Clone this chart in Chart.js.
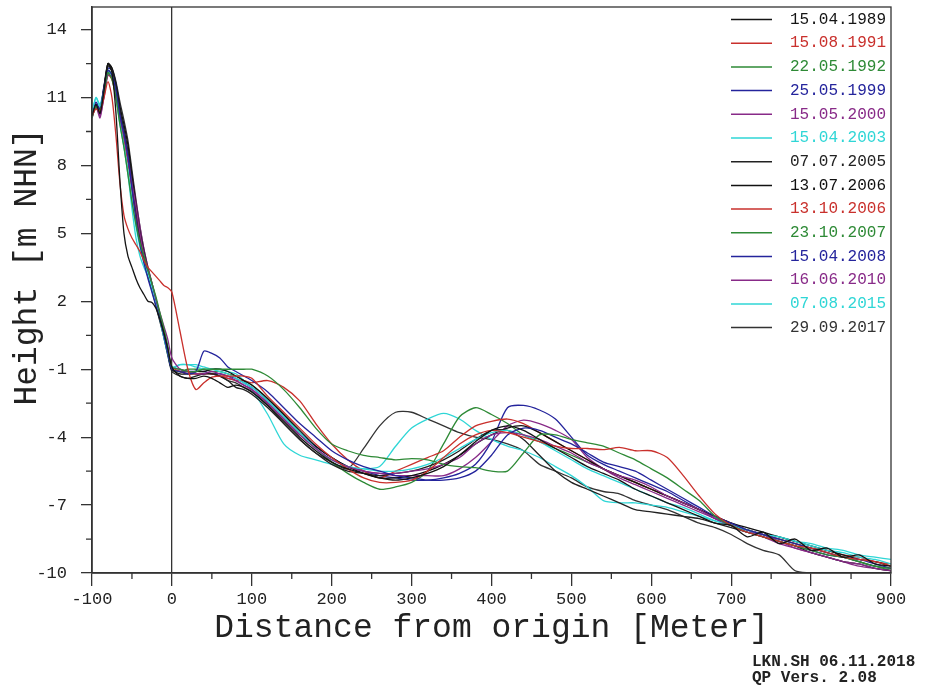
<!DOCTYPE html>
<html>
<head>
<meta charset="utf-8">
<script src="https://cdn.jsdelivr.net/npm/chart.js@4.4.1/dist/chart.umd.min.js"></script>
<style>
  html, body { margin: 0; padding: 0; background: #fff; }
  #wrap { width: 925px; height: 687px; position: relative; }
</style>
</head>
<body>
<div id="wrap"><canvas id="profileChart"></canvas></div>
<script>
// survey dates (legend) and profile data
const surveyDates = ["15.04.1989", "15.08.1991", "22.05.1992", "25.05.1999", "15.05.2000",
    "15.04.2003", "07.07.2005", "13.07.2006", "13.10.2006", "23.10.2007",
    "15.04.2008", "16.06.2010", "07.08.2015", "29.09.2017"];

const distance = [-100, -95, -90, -85, -80, -75, -70, -65, -60, -55, -50, -45, -40, -35, -30, -25, -20, -15, -10, -5, 0,
    10, 20, 30, 40, 50, 60, 70, 80, 90, 100,
    120, 140, 160, 180, 200, 220, 240, 260, 280, 300, 320, 340, 360, 380, 400, 420, 440, 460, 480, 500,
    520, 540, 560, 580, 600, 620, 640, 660, 680, 700, 720, 740, 760, 780, 800, 820, 840, 860, 880, 900];

const h1989 = [10.2, 10.7, 10.3, 11.3, 12.5, 12.1, 10.3, 7.3, 5.0, 4.0, 3.5, 3.0, 2.6, 2.3, 2.0, 1.95, 1.7, 1.2, 0.6, -0.1, -0.9,
    -1.3, -1.4, -1.4, -1.3, -1.4, -1.6, -1.8, -1.7, -1.8, -2.0,
    -2.6, -3.3, -4.0, -4.6, -5.1, -5.4, -5.6, -5.8, -5.9, -5.8, -5.6, -5.3, -4.8, -4.2, -3.7, -3.5, -3.7, -4.1, -4.5, -4.9,
    -5.3, -5.6, -5.9, -6.3, -6.6, -6.9, -7.2, -7.5, -7.8, -7.9, -8.4, -8.2, -8.7, -8.5, -9.0, -8.9, -9.3, -9.2, -9.6, -9.7];
const h1991 = [10.2, 10.5, 10.4, 11.0, 11.7, 11.0, 9.3, 7.2, 5.8, 5.2, 4.8, 4.5, 4.2, 3.8, 3.5, 3.3, 3.1, 2.9, 2.7, 2.6, 2.4,
    0.7, -1.0, -1.9, -1.6, -1.35, -1.3, -1.3, -1.3, -1.3, -1.4,
    -2.2, -2.9, -3.6, -4.3, -4.9, -5.4, -5.8, -6.0, -6.0, -5.9, -5.5, -4.9, -4.3, -3.9, -3.7, -3.8, -4.0, -4.2, -4.4, -4.5,
    -4.5, -4.55, -4.45, -4.6, -4.6, -4.9, -5.7, -6.6, -7.4, -7.9, -8.2, -8.4, -8.6, -8.8, -8.9, -9.1, -9.3, -9.4, -9.5, -9.7];
const h1992 = [10.1, 10.6, 10.4, 11.2, 12.1, 11.8, 11.0, 9.8, 8.8, 7.6, 6.4, 5.4, 4.6, 4.0, 3.4, 2.8, 2.2, 1.5, 0.8, 0.0, -0.9,
    -1.0, -1.1, -1.1, -1.0, -1.0, -1.0, -1.0, -1.0, -1.0, -1.0,
    -1.3, -1.9, -2.7, -3.6, -4.3, -4.6, -4.8, -4.9, -5.0, -4.95, -5.0, -5.2, -5.3, -5.35, -5.5, -5.5, -4.7, -3.9, -3.9, -4.1,
    -4.25, -4.4, -4.7, -5.0, -5.4, -5.8, -6.3, -6.8, -7.5, -7.9, -8.2, -8.4, -8.6, -8.8, -9.0, -9.2, -9.3, -9.5, -9.7, -9.8];
const h1999 = [10.2, 10.7, 10.4, 11.4, 12.2, 12.0, 11.3, 10.2, 9.4, 8.4, 7.0, 5.6, 4.5, 3.7, 3.0, 2.4, 1.8, 1.2, 0.5, -0.3, -1.0,
    -1.1, -1.2, -1.1, -0.2, -0.3, -0.5, -0.9, -1.1, -1.3, -1.5,
    -2.0, -2.7, -3.4, -4.0, -4.6, -5.0, -5.3, -5.5, -5.7, -5.8, -5.9, -5.9, -5.8, -5.5, -4.8, -3.9, -3.6, -3.7, -4.0, -4.3,
    -4.7, -5.1, -5.3, -5.5, -5.9, -6.3, -6.7, -7.1, -7.5, -7.8, -8.1, -8.3, -8.5, -8.7, -8.9, -9.1, -9.3, -9.4, -9.6, -9.8];
const h2000 = [10.1, 10.7, 10.2, 11.0, 12.0, 11.9, 11.2, 10.1, 9.3, 8.3, 7.2, 6.2, 5.0, 4.1, 3.4, 2.8, 2.1, 1.5, 0.9, 0.3, -0.5,
    -1.0, -1.1, -1.2, -1.2, -1.1, -1.2, -1.3, -1.5, -1.7, -1.9,
    -2.5, -3.2, -3.9, -4.5, -5.0, -5.3, -5.5, -5.6, -5.6, -5.5, -5.4, -5.2, -4.9, -4.3, -3.9, -3.8, -3.9, -4.1, -4.4, -4.7,
    -5.1, -5.4, -5.7, -5.9, -6.2, -6.6, -6.9, -7.2, -7.6, -7.9, -8.2, -8.3, -8.6, -8.9, -9.1, -9.3, -9.5, -9.6, -9.8, -9.9];
const h2003 = [10.3, 11.0, 10.6, 11.3, 12.1, 12.0, 11.0, 9.9, 8.9, 7.8, 6.5, 5.3, 4.4, 3.7, 3.2, 2.6, 1.9, 1.2, 0.4, -0.3, -0.9,
    -0.8, -0.8, -0.9, -1.0, -1.0, -1.1, -1.2, -1.4, -1.6, -1.8,
    -2.4, -3.1, -3.8, -4.5, -5.0, -5.3, -5.4, -5.5, -5.5, -5.4, -5.2, -4.9, -4.5, -4.1, -3.8, -3.7, -3.9, -4.2, -4.6, -5.0,
    -5.4, -5.7, -6.0, -6.3, -6.6, -6.9, -7.1, -7.4, -7.7, -7.9, -8.1, -8.3, -8.4, -8.6, -8.8, -9.0, -9.1, -9.3, -9.4, -9.6];
const h2005 = [10.2, 10.6, 10.3, 11.4, 12.4, 12.2, 11.5, 10.4, 9.6, 8.6, 7.3, 6.0, 4.8, 3.9, 3.1, 2.5, 1.8, 1.1, 0.4, -0.4, -1.1,
    -1.3, -1.4, -1.3, -1.2, -1.2, -1.3, -1.5, -1.8, -1.9, -2.1,
    -2.7, -3.4, -4.1, -4.7, -5.2, -5.5, -5.6, -5.7, -5.6, -5.5, -5.3, -5.0, -4.6, -4.1, -3.7, -3.7, -4.1, -4.8, -5.5, -6.0,
    -6.3, -6.6, -6.9, -7.2, -7.3, -7.4, -7.5, -7.6, -7.8, -8.0, -8.2, -8.4, -8.6, -8.8, -9.1, -9.3, -9.5, -9.6, -9.8, -9.9];
const h2006a = [10.2, 10.7, 10.4, 11.5, 12.5, 12.3, 11.6, 10.6, 9.8, 8.9, 7.6, 6.3, 5.1, 4.2, 3.4, 2.7, 2.0, 1.3, 0.6, -0.2, -1.0,
    -1.2, -1.2, -1.1, -1.1, -1.0, -1.0, -1.1, -1.3, -1.5, -1.7,
    -2.3, -3.0, -3.7, -4.4, -4.9, -5.3, -5.6, -5.8, -5.8, -5.7, -5.5, -5.2, -4.8, -4.3, -3.9, -3.6, -3.5, -3.8, -4.2, -4.6,
    -5.0, -5.4, -5.7, -6.0, -6.3, -6.6, -6.9, -7.2, -7.5, -7.8, -8.0, -8.2, -8.4, -8.6, -8.8, -9.0, -9.2, -9.4, -9.5, -9.7];
const h2006b = [10.2, 10.6, 10.3, 11.2, 12.0, 11.8, 11.0, 10.0, 9.1, 8.1, 6.9, 5.8, 4.8, 4.0, 3.3, 2.6, 1.9, 1.2, 0.5, -0.2, -0.9,
    -1.1, -1.2, -1.2, -1.2, -1.2, -1.3, -1.4, -1.5, -1.5, -1.6,
    -1.5, -1.8, -2.4, -3.4, -4.3, -5.0, -5.5, -5.8, -5.5, -5.2, -4.9, -4.6, -4.0, -3.5, -3.3, -3.2, -3.4, -3.8, -4.2, -4.6,
    -5.0, -5.4, -5.7, -6.0, -6.3, -6.6, -6.9, -7.2, -7.5, -7.8, -8.1, -8.3, -8.5, -8.7, -8.9, -9.0, -9.2, -9.3, -9.5, -9.6];
const h2007 = [10.2, 10.6, 10.3, 11.3, 12.2, 12.0, 11.2, 10.2, 9.3, 8.3, 7.0, 5.8, 4.7, 3.9, 3.2, 2.6, 1.9, 1.2, 0.5, -0.2, -1.0,
    -1.1, -1.0, -1.0, -1.0, -1.1, -1.1, -1.2, -1.3, -1.5, -1.7,
    -2.3, -3.0, -3.8, -4.5, -5.1, -5.6, -6.0, -6.3, -6.2, -6.0, -5.5, -4.3, -3.1, -2.7, -3.0, -3.4, -3.9, -4.2, -4.5, -4.8,
    -5.1, -5.4, -5.7, -6.0, -6.3, -6.6, -6.9, -7.2, -7.5, -7.8, -8.1, -8.3, -8.5, -8.7, -8.9, -9.1, -9.3, -9.5, -9.7, -9.9];
const h2008 = [10.3, 10.8, 10.5, 11.5, 12.3, 12.2, 11.6, 10.5, 9.5, 8.5, 7.2, 5.9, 4.8, 4.0, 3.3, 2.6, 1.9, 1.2, 0.5, -0.3, -1.0,
    -1.1, -1.1, -1.1, -1.1, -1.2, -1.2, -1.3, -1.4, -1.6, -1.8,
    -2.4, -3.1, -3.8, -4.4, -4.9, -5.3, -5.5, -5.7, -5.8, -5.9, -5.9, -5.8, -5.6, -5.2, -4.2, -2.7, -2.6, -2.8, -3.2, -4.0,
    -4.8, -5.2, -5.5, -5.8, -6.1, -6.4, -6.8, -7.2, -7.6, -7.9, -8.1, -8.3, -8.6, -8.8, -9.0, -9.2, -9.3, -9.5, -9.7, -9.8];
const h2010 = [10.1, 10.6, 10.1, 11.1, 12.1, 12.0, 11.4, 10.3, 9.5, 8.6, 7.5, 6.4, 5.3, 4.3, 3.5, 2.8, 2.0, 1.3, 0.6, -0.2, -0.9,
    -1.0, -1.1, -1.2, -1.2, -1.2, -1.3, -1.4, -1.5, -1.7, -1.9,
    -2.5, -3.2, -3.9, -4.5, -5.0, -5.3, -5.5, -5.6, -5.7, -5.7, -5.7, -5.7, -5.4, -4.9, -4.2, -3.5, -3.25, -3.4, -3.7, -4.1,
    -4.9, -5.4, -5.8, -6.1, -6.4, -6.7, -7.0, -7.3, -7.6, -7.9, -8.2, -8.4, -8.7, -8.9, -9.1, -9.3, -9.5, -9.7, -9.8, -9.9];
const h2015 = [10.3, 11.0, 10.7, 11.4, 12.2, 12.0, 11.0, 9.8, 8.8, 7.6, 6.1, 4.8, 4.0, 3.5, 3.1, 2.7, 2.0, 1.2, 0.4, -0.4, -1.0,
    -0.8, -0.8, -0.8, -0.9, -1.0, -1.0, -1.1, -1.2, -1.5, -1.9,
    -3.0, -4.3, -4.8, -5.0, -5.2, -5.3, -5.4, -5.3, -4.4, -3.6, -3.2, -2.95, -3.2, -3.7, -4.1, -4.4, -4.6, -4.9, -5.3, -5.7,
    -6.2, -6.8, -6.9, -6.9, -7.0, -7.1, -7.3, -7.5, -7.7, -7.9, -8.1, -8.3, -8.4, -8.6, -8.7, -8.9, -9.0, -9.2, -9.3, -9.4];
const h2017 = [10.2, 10.7, 10.4, 11.4, 12.5, 12.3, 11.7, 10.8, 10.0, 9.1, 7.8, 6.5, 5.3, 4.3, 3.5, 2.8, 2.1, 1.4, 0.6, -0.2, -1.0,
    -1.1, -1.2, -1.2, -1.2, -1.2, -1.3, -1.5, -1.6, -1.8, -2.0,
    -2.6, -3.4, -4.1, -4.7, -5.1, -5.4, -4.5, -3.5, -2.9, -2.9, -3.2, -3.5, -3.8, -4.0, -4.1, -4.3, -4.6, -5.2, -5.5, -5.8,
    -6.2, -6.4, -6.5, -6.8, -7.0, -7.2, -7.5, -7.8, -8.0, -8.3, -8.7, -9.0, -9.2, -9.9, -10.0, -10.1, -10.1, null, null, null];

const xTicks = [-100, 0, 100, 200, 300, 400, 500, 600, 700, 800, 900];
const yTicks = [-10, -7, -4, -1, 2, 5, 8, 11, 14];

document.addEventListener("DOMContentLoaded", function () {
    const ctx = document.getElementById("profileChart").getContext("2d");

    const profiles = [h1989, h1991, h1992, h1999, h2000, h2003, h2005, h2006a, h2006b, h2007, h2008, h2010, h2015, h2017];
    const colors = ["#141414", "#c9302c", "#2e8a36", "#24249c", "#882a88", "#2fd6d6", "#222222",
        "#111111", "#c9302c", "#2e8a36", "#24249c", "#882a88", "#2fd6d6", "#333333"];
    const mono = "'Liberation Mono', 'DejaVu Sans Mono', monospace";

    const datasets = profiles.map((vals, k) => ({
        label: surveyDates[k],
        data: distance.map((x, i) => ({ x: x, y: vals[i] })),
        borderColor: colors[k],
        borderWidth: 1.3,
        pointRadius: 0,
        tension: 0.25,
        fill: false,
        spanGaps: false
    }));

    // frame, minor ticks, y title, legend and footer text
    const extras = {
        id: "extras",
        afterDraw(chart) {
            const c = chart.ctx;
            const a = chart.chartArea;
            const xs = chart.scales.x, ys = chart.scales.y;
            c.save();
            c.strokeStyle = "#333";
            c.lineWidth = 1.3;
            c.strokeRect(a.left, a.top, a.right - a.left, a.bottom - a.top);

            c.beginPath();
            for (let v = -50; v < 900; v += 100) {
                const px = xs.getPixelForValue(v);
                c.moveTo(px, a.bottom);
                c.lineTo(px, a.bottom + 6);
            }
            for (let v = -8.5; v < 14; v += 3) {
                const py = ys.getPixelForValue(v);
                c.moveTo(a.left - 6, py);
                c.lineTo(a.left, py);
            }
            c.stroke();

            c.fillStyle = "#222";
            c.font = "33px " + mono;
            c.textAlign = "center";
            c.textBaseline = "middle";
            c.translate(27, 267);
            c.rotate(-Math.PI / 2);
            c.fillText("Height [m NHN]", 0, 0);
            c.restore();

            c.save();
            c.font = "16px " + mono;
            c.textBaseline = "middle";
            c.lineWidth = 1.5;
            chart.data.datasets.forEach((ds, i) => {
                const y = 19.5 + i * 23.7;
                c.strokeStyle = ds.borderColor;
                c.beginPath();
                c.moveTo(731, y);
                c.lineTo(772, y);
                c.stroke();
                c.fillStyle = ds.borderColor;
                c.fillText(ds.label, 790, y);
            });

            c.fillStyle = "#222";
            c.font = "bold 16px " + mono;
            c.fillText("LKN.SH 06.11.2018", 752, 662);
            c.fillText("QP Vers. 2.08", 752, 678);
            c.restore();
        }
    };

    new Chart(ctx, {
        type: "line",
        data: { datasets: datasets },
        options: {
            responsive: true,
            maintainAspectRatio: false,
            animation: false,
            layout: { padding: { top: 7, right: 34, left: 0, bottom: 0 } },
            plugins: {
                legend: { display: false },
                tooltip: { enabled: false }
            },
            scales: {
                x: {
                    type: "linear",
                    min: -100,
                    max: 900,
                    afterBuildTicks: s => { s.ticks = xTicks.map(v => ({ value: v })); },
                    afterFit: s => { s.height = 114; s.paddingLeft = 0; s.paddingRight = 0; },
                    ticks: {
                        font: { family: mono, size: 17 },
                        color: "#222",
                        padding: 3,
                        maxRotation: 0,
                        autoSkip: false
                    },
                    grid: {
                        color: c => (c.tick && c.tick.value === 0) ? "#333" : "rgba(0,0,0,0)",
                        tickColor: "#333",
                        tickLength: 13,
                        lineWidth: 1.3
                    },
                    border: { color: "#333", width: 1.5 },
                    title: {
                        display: true,
                        text: "Distance from origin [Meter]",
                        font: { family: mono, size: 33 },
                        color: "#222",
                        padding: { top: 4, bottom: 39 }
                    }
                },
                y: {
                    type: "linear",
                    min: -10,
                    max: 15,
                    afterBuildTicks: s => { s.ticks = yTicks.map(v => ({ value: v })); },
                    afterFit: s => { s.width = 92; s.paddingTop = 0; s.paddingBottom = 0; },
                    ticks: {
                        font: { family: mono, size: 17 },
                        color: "#222",
                        padding: 14
                    },
                    grid: {
                        color: "rgba(0,0,0,0)",
                        tickColor: "#333",
                        tickLength: 11,
                        lineWidth: 1.3
                    },
                    border: { color: "#333", width: 1.5 }
                }
            }
        },
        plugins: [extras]
    });
});
</script>
</body>
</html>
